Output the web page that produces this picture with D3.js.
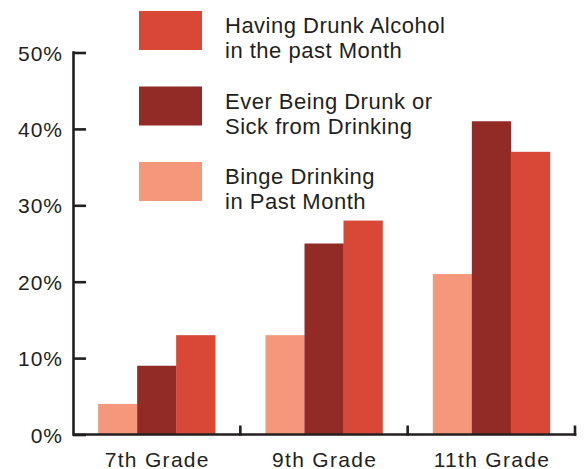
<!DOCTYPE html>
<html>
<head>
<meta charset="utf-8">
<script src="https://cdn.jsdelivr.net/npm/d3@7"></script>
<style>
  html, body { margin: 0; padding: 0; background: #fff; }
  svg { display: block; font-family: "Liberation Sans", Arial, sans-serif; }
</style>
</head>
<body>
<svg id="chart" width="584" height="469"></svg>
<script>
// Grades along the x axis
const grades = ["7th Grade", "9th Grade", "11th Grade"];
// Series in drawing order within each grade group
const seriesKeys = ["binge", "drunk", "alcohol"];
const seriesLabels = {
  alcohol: ["Having Drunk Alcohol", "in the past Month"],
  drunk: ["Ever Being Drunk or", "Sick from Drinking"],
  binge: ["Binge Drinking", "in Past Month"]
};
const seriesColors = { binge: "#f4977a", drunk: "#922a25", alcohol: "#d94836" };
// Percent values per grade
const bingeValues = [4, 13, 21];
const drunkValues = [9, 25, 41];
const alcoholValues = [13, 28, 37];
const yTicks = [0, 10, 20, 30, 40, 50];

const valuesByKey = { binge: bingeValues, drunk: drunkValues, alcohol: alcoholValues };
const rows = grades.map((g, i) => ({
  grade: g,
  values: seriesKeys.map(k => ({ key: k, value: valuesByKey[k][i] }))
}));

const svg = d3.select("#chart");
const ink = "#231f20";
const plotLeft = 73, plotRight = 575, plotTop = 52.5, plotBottom = 434.5;

const x = d3.scaleBand().domain(grades).range([plotLeft, plotRight]).padding(0);
const xs = d3.scaleBand().domain(seriesKeys).range([0, x.step()]).paddingInner(0).paddingOuter(0.645);
const y = d3.scaleLinear().domain([0, 50]).range([plotBottom, plotTop]);

// Bars
const groups = svg.append("g").selectAll("g").data(rows).join("g")
  .attr("transform", d => `translate(${x(d.grade)},0)`);
groups.selectAll("rect").data(d => d.values).join("rect")
  .attr("x", d => xs(d.key))
  .attr("width", xs.bandwidth() + 0.3)
  .attr("y", d => y(d.value))
  .attr("height", d => y(0) - y(d.value))
  .attr("fill", d => seriesColors[d.key]);

// Y axis with inward ticks
const yAxis = svg.append("g").attr("transform", `translate(${plotLeft},0)`)
  .call(d3.axisLeft(y).tickValues(yTicks).tickFormat(d => d + "%")
    .tickSizeInner(-13).tickSizeOuter(0).tickPadding(9));
yAxis.select(".domain").attr("stroke", ink).attr("stroke-width", 2.6)
  .attr("d", `M0.5,${plotTop - 1.3}V${plotBottom + 1.3}`);
yAxis.selectAll(".tick line").attr("stroke", ink).attr("stroke-width", 2.6);
yAxis.selectAll(".tick text").attr("fill", ink).attr("font-size", 21)
  .attr("letter-spacing", 1).attr("x", -10)
  .attr("font-family", "Liberation Sans, Arial, sans-serif").attr("dy", "0.36em");

// X axis: baseline, group separators and labels
const xAxis = svg.append("g").attr("transform", `translate(0,${plotBottom})`)
  .call(d3.axisBottom(x).tickSize(0).tickPadding(18));
xAxis.select(".domain").attr("stroke", ink).attr("stroke-width", 2.6)
  .attr("d", `M${plotLeft},0H${plotRight + 1.3}`);
xAxis.selectAll(".tick text").attr("fill", ink).attr("font-size", 21)
  .attr("letter-spacing", 1.3).attr("x", 0.6)
  .attr("font-family", "Liberation Sans, Arial, sans-serif");
svg.append("g").selectAll("line").data(grades).join("line")
  .attr("x1", d => x(d) + x.step()).attr("x2", d => x(d) + x.step())
  .attr("y1", plotBottom + 1.3).attr("y2", plotBottom - 9)
  .attr("stroke", ink).attr("stroke-width", 2.6);

// Legend
const legendOrder = ["alcohol", "drunk", "binge"];
const legendY = d3.scalePoint().domain(legendOrder).range([11, 162]);
const lg = svg.append("g").selectAll("g").data(legendOrder).join("g")
  .attr("transform", d => `translate(139,${legendY(d)})`);
lg.append("rect").attr("width", 63).attr("height", 39).attr("fill", d => seriesColors[d]);
lg.append("text").attr("x", 86).attr("y", 22.3).attr("fill", ink).attr("font-size", 22)
  .attr("letter-spacing", 0.5)
  .selectAll("tspan").data(d => seriesLabels[d]).join("tspan")
  .attr("x", 86).attr("dy", (d, i) => i === 0 ? 0 : 25).text(d => d);
</script>
</body>
</html>
